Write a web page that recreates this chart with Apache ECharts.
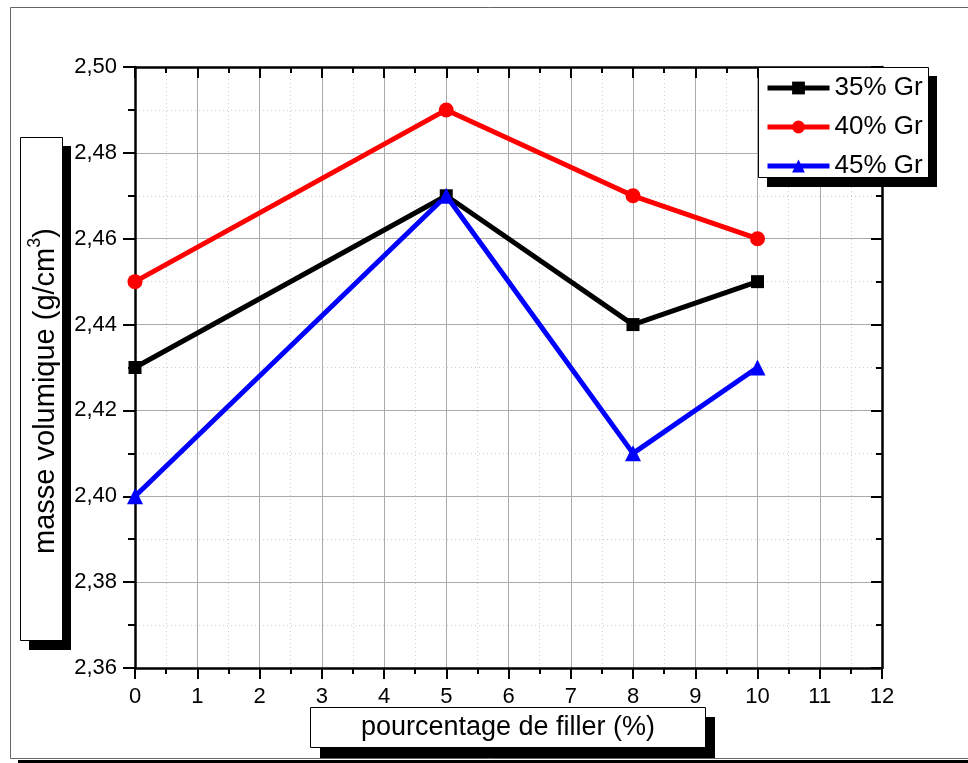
<!DOCTYPE html>
<html><head><meta charset="utf-8">
<script src="https://cdn.jsdelivr.net/npm/echarts@6/dist/echarts.min.js"></script>
<style>html,body{margin:0;padding:0;background:#fff}#c{width:968px;height:763px}</style>
</head><body><div id="c"></div>
<script>
const xValues = [0, 5, 8, 10];
const gr35 = [2.43, 2.47, 2.44, 2.45];
const gr40 = [2.45, 2.49, 2.47, 2.46];
const gr45 = [2.40, 2.47, 2.41, 2.43];
const seriesNames = ['35% Gr', '40% Gr', '45% Gr'];
const xTitle = 'pourcentage de filler (%)';
const yTitleMain = 'masse volumique (g/cm';
const yTitleSup = '3';
const yTitleEnd = ')';

const FONT = "'Liberation Sans', Arial, sans-serif";
const chart = echarts.init(document.getElementById('c'), null, {renderer: 'canvas'});

function axisCommon(pos, inside, showLabel, showSplit) {
  return {
    type: 'value', position: pos,
    axisLine: {show: true, onZero: false, lineStyle: {color: '#000', width: 2.5}},
    axisTick: {show: true, inside: inside, length: 11, lineStyle: {color: '#000', width: 2}},
    minorTick: {show: true, splitNumber: 2, length: 6, lineStyle: {color: '#000', width: 2}},
    splitLine: {show: showSplit, lineStyle: {color: '#aaaaaa', width: 1}},
    minorSplitLine: {show: showSplit, lineStyle: {color: '#cfcfcf', width: 1, type: [1, 3]}},
    axisLabel: {show: showLabel, fontSize: 22, color: '#000', fontFamily: FONT, margin: 18}
  };
}

const xb = Object.assign(axisCommon('bottom', false, true, true), {min: 0, max: 12, interval: 1});
const xt = Object.assign(axisCommon('top', true, false, false), {min: 0, max: 12, interval: 1});
const yl = Object.assign(axisCommon('left', false, true, true), {min: 2.36, max: 2.5, interval: 0.02});
yl.axisLabel.formatter = v => v.toFixed(2).replace('.', ',');
yl.axisTick.length = 12; yl.minorTick.length = 7;
const yr = Object.assign(axisCommon('right', true, false, false), {min: 2.36, max: 2.5, interval: 0.02});

function mk(name, vals, color, symbol, size) {
  return {
    name: name, type: 'line', xAxisIndex: 0, yAxisIndex: 0,
    data: xValues.map((x, i) => [x, vals[i]]),
    symbol: symbol, symbolSize: size, clip: false,
    lineStyle: {color: color, width: 5},
    itemStyle: {color: color},
    z: 3
  };
}

chart.setOption({
  animation: false,
  grid: {left: 135, top: 67, right: 86, bottom: 95},
  xAxis: [xb, xt],
  yAxis: [yl, yr],
  legend: {
    orient: 'vertical', left: 765, top: 75, padding: 0, itemWidth: 62, itemHeight: 16, itemGap: 13,
    textStyle: {fontSize: 26, color: '#000', fontFamily: FONT, lineHeight: 24},
    lineStyle: {width: 5},
    data: seriesNames, z: 10, selectedMode: false
  },
  graphic: [
    {type: 'rect', z: -10, shape: {x: 10.5, y: 7.5, width: 980, height: 751}, style: {fill: null, stroke: '#666', lineWidth: 1}},
    {type: 'rect', z: -10, shape: {x: 18, y: 760, width: 960, height: 3}, style: {fill: '#000'}},
    {type: 'rect', z: 5, shape: {x: 29, y: 146, width: 42, height: 504}, style: {fill: '#000'}},
    {type: 'rect', z: 6, shape: {x: 20.5, y: 137.5, width: 42, height: 503}, style: {fill: '#fff', stroke: '#000', lineWidth: 1}},
    {type: 'text', z: 7, x: 43, y: 391, rotation: Math.PI / 2,
      style: {text: '{m|' + yTitleMain + '}{s|' + yTitleSup + '}{m|' + yTitleEnd + '}',
        align: 'center', verticalAlign: 'middle',
        rich: {m: {fontSize: 29, fontFamily: FONT, fill: '#000', lineHeight: 34, verticalAlign: 'bottom'},
               s: {fontSize: 18, fontFamily: FONT, fill: '#000', lineHeight: 18, verticalAlign: 'top'}}}},
    {type: 'rect', z: 5, shape: {x: 320, y: 717, width: 395, height: 41}, style: {fill: '#000'}},
    {type: 'rect', z: 6, shape: {x: 310.5, y: 707.5, width: 395, height: 40}, style: {fill: '#fff', stroke: '#000', lineWidth: 1}},
    {type: 'text', z: 7, x: 508, y: 728, style: {text: xTitle, font: '27px ' + FONT, fill: '#000', align: 'center', verticalAlign: 'middle'}},
    {type: 'rect', z: 5, shape: {x: 767, y: 76, width: 170, height: 111}, style: {fill: '#000'}},
    {type: 'rect', z: 6, shape: {x: 758.5, y: 67.5, width: 170, height: 110}, style: {fill: '#fff', stroke: '#000', lineWidth: 1}}
  ],
  series: [
    mk(seriesNames[0], gr35, '#000000', 'rect', 13),
    mk(seriesNames[1], gr40, '#ff0000', 'circle', 15),
    mk(seriesNames[2], gr45, '#0000ff', 'triangle', 16)
  ]
});
</script></body></html>
